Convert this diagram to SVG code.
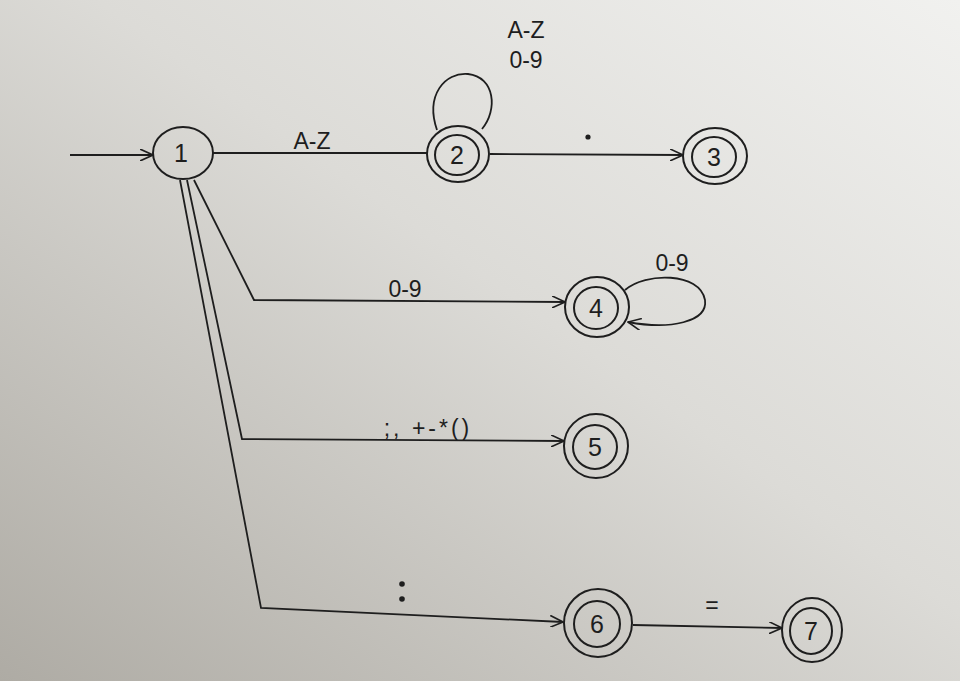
<svg xmlns="http://www.w3.org/2000/svg" width="960" height="681" viewBox="0 0 960 681">
<defs>
<linearGradient id="bg" x1="1" y1="0" x2="0" y2="1">
<stop offset="0" stop-color="#f1f1ef"/>
<stop offset="0.45" stop-color="#dcdbd7"/>
<stop offset="1" stop-color="#aeaba4"/>
</linearGradient>
<marker id="arr" viewBox="0 0 14 12" refX="13" refY="6" markerWidth="14" markerHeight="12" markerUnits="userSpaceOnUse" orient="auto">
<path d="M0,0 L13,6 L0,12" fill="none" stroke="#1e1e1e" stroke-width="1.6"/>
</marker>
<style>
.e{fill:none;stroke:#1e1e1e;stroke-width:1.8}
.n{fill:none;stroke:#1e1e1e;stroke-width:2}
.t{font-family:"Liberation Sans",Arial,sans-serif;font-size:25px;fill:#1e1e1e;text-anchor:middle}
.l{font-family:"Liberation Sans",Arial,sans-serif;font-size:23px;fill:#1e1e1e;text-anchor:middle}
</style>
</defs>
<rect width="960" height="681" fill="url(#bg)"/>
<g id="connectors">
<line class="e" x1="70" y1="155" x2="153" y2="155" marker-end="url(#arr)"/>
<line class="e" x1="213" y1="153" x2="427" y2="153"/>
<line class="e" x1="490" y1="154" x2="683" y2="155" marker-end="url(#arr)"/>
<path class="e" d="M437,130 C425,95 445,72 468,74 C495,77 498,110 482,129"/>
<polyline class="e" points="194,180 254,300 565,302" marker-end="url(#arr)"/>
<polyline class="e" points="187,180 242,439 564,441" marker-end="url(#arr)"/>
<polyline class="e" points="180,180 261,608 563,622" marker-end="url(#arr)"/>
<path class="e" d="M625,290 C645,272 700,272 705,300 C708,322 670,330 628,322" marker-end="url(#arr)"/>
<line class="e" x1="633" y1="625" x2="782" y2="628" marker-end="url(#arr)"/>
<text class="l" x="312" y="149">A-Z</text>
<text class="l" x="526" y="38">A-Z</text>
<text class="l" x="526" y="68">0-9</text>
<circle cx="588" cy="137" r="2.6" fill="#1e1e1e"/>
<text class="l" x="405" y="297">0-9</text>
<text class="l" x="672" y="271">0-9</text>
<text class="l" x="428" y="436" letter-spacing="3">;, +-*()</text>
<circle cx="402" cy="584" r="2.8" fill="#1e1e1e"/>
<circle cx="402" cy="599" r="2.8" fill="#1e1e1e"/>
<text class="l" x="712" y="613">=</text>
</g>
<g id="node1"><ellipse class="n" cx="183" cy="153" rx="30" ry="26"/><text class="t" x="181" y="162">1</text></g>
<g id="node2"><ellipse class="n" cx="458" cy="154" rx="31" ry="28"/><ellipse class="n" cx="457" cy="155" rx="22" ry="20"/><text class="t" x="457" y="164">2</text></g>
<g id="node3"><ellipse class="n" cx="715" cy="156" rx="32" ry="28"/><ellipse class="n" cx="714" cy="157" rx="22" ry="20"/><text class="t" x="714" y="166">3</text></g>
<g id="node4"><ellipse class="n" cx="597" cy="307" rx="32" ry="30"/><ellipse class="n" cx="596" cy="308" rx="22" ry="21"/><text class="t" x="596" y="317">4</text></g>
<g id="node5"><ellipse class="n" cx="596" cy="446" rx="32" ry="32"/><ellipse class="n" cx="595" cy="447" rx="22" ry="22"/><text class="t" x="595" y="456">5</text></g>
<g id="node6"><ellipse class="n" cx="598" cy="623" rx="34" ry="34"/><ellipse class="n" cx="597" cy="624" rx="23" ry="23"/><text class="t" x="597" y="633">6</text></g>
<g id="node7"><ellipse class="n" cx="812" cy="630" rx="30" ry="32"/><ellipse class="n" cx="811" cy="631" rx="21" ry="23"/><text class="t" x="811" y="640">7</text></g>
</svg>
